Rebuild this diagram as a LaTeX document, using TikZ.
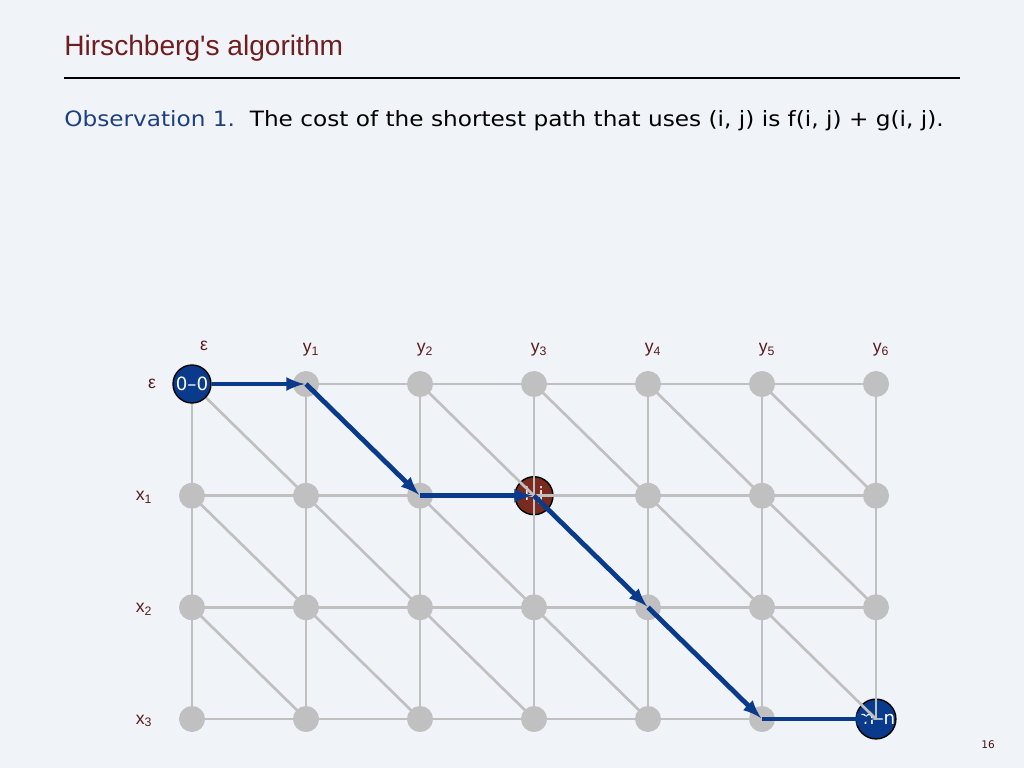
\documentclass[tikz,border=0pt]{standalone}
\usepackage{fontspec}
\setmainfont{DejaVu Sans}
\newfontfamily\titlefont{Liberation Sans}
\usepackage{tikz}
\usetikzlibrary{calc}
\definecolor{slidebg}{HTML}{F0F4F9}
\definecolor{titlered}{HTML}{6E1E1E}
\definecolor{labelred}{HTML}{5A1A1A}
\definecolor{obsblue}{HTML}{1F3F7F}
\definecolor{gridgray}{HTML}{C0C0C0}
\definecolor{pathblue}{HTML}{0A3A8C}
\definecolor{hitred}{HTML}{7A2A1E}
\tikzset{
  vertex/.style={circle,fill=gridgray,minimum size=18.5pt,inner sep=0pt},
  endpt/.style={circle,draw=black,line width=1pt,fill=pathblue,text=white,minimum size=27pt,inner sep=0pt,font=\fontsize{13}{13}\selectfont},
  midpt/.style={endpt,fill=hitred},
  gridedge/.style={gridgray,line width=1.9pt},
  pathedge/.style={pathblue,line width=3.4pt,-latex,shorten >=1pt},
  lbl/.style={text=labelred,font=\titlefont\fontsize{12.5}{13}\selectfont}
}

\begin{document}
\begin{tikzpicture}[x=0.025cm,y=-0.025cm]
\fill[slidebg] (0,0) rectangle (1024,768);
\useasboundingbox (0,0) rectangle (1024,768);
\node[anchor=base west,inner sep=0pt,text=titlered,font=\titlefont\fontsize{20}{24}\selectfont] (title) at (64,56) {Hirschberg's algorithm};
\draw[line width=1.4pt] (64,78) -- (960,78);
\node[anchor=base west,inner sep=0pt,font=\fontsize{15}{17}\selectfont] (obs) at (64,127) {\scalebox{1.1}[1]{\textcolor{obsblue}{Observation 1.}\ \ The cost of the shortest path that uses (i, j) is f(i, j) + g(i, j).}};
\foreach \r/\yy in {0/384,1/495.7,2/607.3,3/719}
\foreach \c in {0,...,6}
\coordinate (p\r\c) at ({192+114*\c},\yy);
\node[lbl] (ce) at (204,346) {ε};
\foreach \c in {1,...,6}
\node[lbl] (cy\c) at ({197+114*\c},350) {y\textsubscript{\c}};
\node[lbl] (re) at (152,384) {ε};
\foreach \r in {1,2,3}
\node[lbl] (rx\r) at (144,{386+111.67*\r}) {x\textsubscript{\r}};
\node[midpt] (ij) at (p13) {i--j};
\node[endpt] (mn) at (p36) {m--n};
\foreach \r in {0,...,3}
\foreach \c in {0,...,5}{
\pgfmathtruncatemacro\d{\c+1}
\draw[gridedge] (p\r\c) -- (p\r\d);
}
\foreach \r in {0,1,2}
\foreach \c in {0,...,6}{
\pgfmathtruncatemacro\s{\r+1}
\draw[gridedge] (p\r\c) -- (p\s\c);
}
\foreach \r in {0,1,2}
\foreach \c in {0,...,5}{
\pgfmathtruncatemacro\s{\r+1}
\pgfmathtruncatemacro\d{\c+1}
\draw[gridedge] (p\r\c) -- (p\s\d);
}
\foreach \r in {0,...,3}
\foreach \c in {0,...,6}{
\pgfmathtruncatemacro\k{10*\r+\c}
\ifnum\k=0 \else\ifnum\k=13 \else\ifnum\k=36 \else
\node[vertex] (v\r\c) at (p\r\c) {};
\fi\fi\fi
}
\node[endpt] (start) at (p00) {0--0};
\draw[pathedge] (start) -- (p01);
\draw[pathedge] (p01) -- (p12);
\draw[pathedge] (p12) -- (p13);
\draw[pathedge] (p13) -- (p24);
\draw[pathedge] (p24) -- (p35);
\draw[pathedge] (p35) -- (p36);
\node[anchor=base,inner sep=0pt,text=labelred!80!black,font=\fontsize{7.5}{8}\selectfont] (page) at (988,748) {16};
\end{tikzpicture}
\end{document}
